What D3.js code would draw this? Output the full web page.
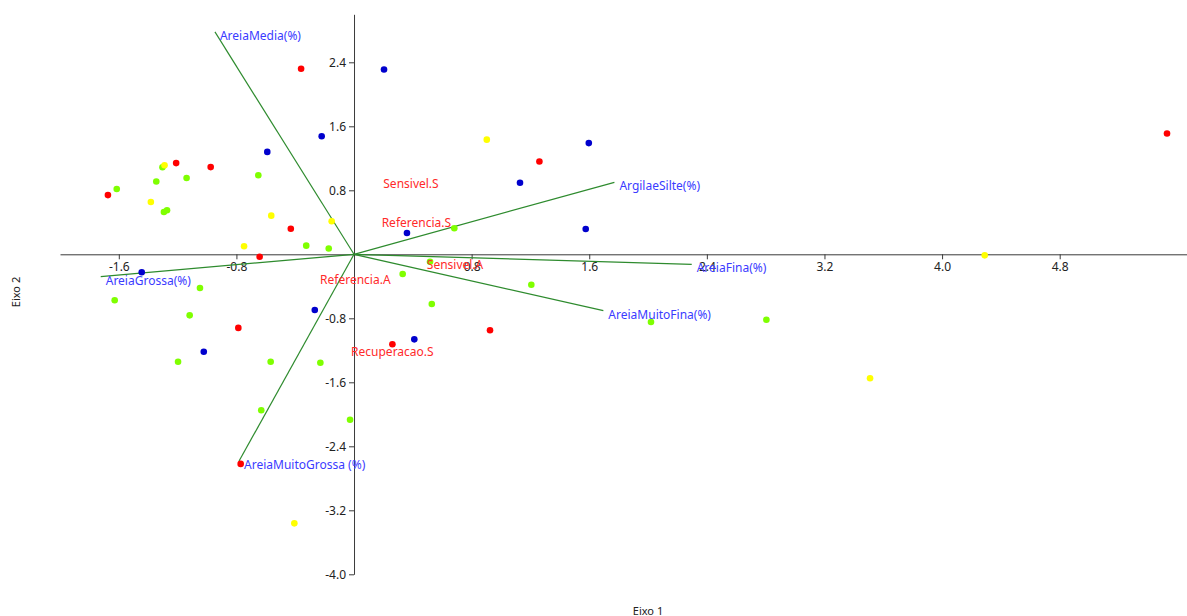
<!DOCTYPE html>
<html>
<head>
<meta charset="utf-8">
<script src="https://cdn.jsdelivr.net/npm/d3@7"></script>
<style>
  body { margin: 0; background: #fff; }
  text { font-family: "Segoe UI", "Noto Sans", sans-serif; }
</style>
</head>
<body>
<div id="chart"></div>
<script>
// scores (Eixo 1, Eixo 2) per colour group
const redPoints = [
  [-0.36, 2.32], [-1.21, 1.14], [-0.975, 1.09], [-1.674, 0.74], [-0.43, 0.32],
  [-0.642, -0.03], [1.261, 1.16], [5.53, 1.51], [-0.787, -0.92], [0.261, -1.125],
  [0.925, -0.95], [-0.771, -2.62]
];
const bluePoints = [
  [0.204, 2.31], [-0.22, 1.475], [-0.59, 1.28], [1.597, 1.39], [1.129, 0.895],
  [0.36, 0.266], [1.576, 0.316], [-1.444, -0.225], [-0.267, -0.696],
  [-1.022, -1.218], [0.41, -1.063]
];
const yellowPoints = [
  [-1.289, 1.114], [-1.382, 0.654], [-0.563, 0.483], [-0.152, 0.413], [-0.748, 0.1],
  [0.903, 1.433], [4.29, -0.013], [3.51, -1.55], [-0.406, -3.363]
];
const greenPoints = [
  [-1.303, 1.088], [-0.651, 0.988], [-1.139, 0.954], [-1.345, 0.91], [-1.614, 0.816],
  [-1.293, 0.529], [-1.272, 0.55], [-0.325, 0.108], [-0.172, 0.073], [0.682, 0.325],
  [0.517, -0.093], [0.331, -0.246], [1.206, -0.38], [0.529, -0.621], [-1.048, -0.421],
  [-1.628, -0.575], [-1.118, -0.763], [-1.197, -1.343], [-0.567, -1.343],
  [-0.229, -1.355], [-0.631, -1.95], [-0.027, -2.068], [2.02, -0.846], [2.805, -0.818]
];

// variable vectors
const vectorNames = ["AreiaMedia(%)", "AreiaGrossa(%)", "AreiaMuitoGrossa (%)",
  "ArgilaeSilte(%)", "AreiaFina(%)", "AreiaMuitoFina(%)"];
const vectorX = [-0.946, -1.723, -0.782, 1.771, 2.297, 1.696];
const vectorY = [2.78, -0.28, -2.584, 0.9, -0.125, -0.705];

// group centroids
const groupNames = ["Sensivel.S", "Referencia.S", "Sensivel.A", "Referencia.A", "Recuperacao.S"];
const groupX = [0.165, 0.154, 0.461, -0.265, -0.054];
const groupY = [0.926, 0.439, -0.078, -0.269, -1.174];

const xTicks = [-1.6, -0.8, 0.8, 1.6, 2.4, 3.2, 4.0, 4.8];
const yTicks = [2.4, 1.6, 0.8, -0.8, -1.6, -2.4, -3.2, -4.0];

const W = 1187, H = 616;

const svg = d3
  .select("#chart")
  .append("svg")
  .attr("width", W)
  .attr("height", H);

const x = d3.scaleLinear().domain([-2, 5.7]).range([60, 1192]);
const y = d3.scaleLinear().domain([-4, 3]).range([574.3, 14.3]);

const fmt = function (d) { return d.toFixed(1); };

// X axis through origin
const xAxis = svg
  .append("g")
  .attr("transform", "translate(0," + y(0) + ")")
  .call(d3.axisBottom(x).tickValues(xTicks).tickFormat(fmt).tickSize(5).tickSizeOuter(0));

// Y axis through origin
const yAxis = svg
  .append("g")
  .attr("transform", "translate(" + x(0) + ",0)")
  .call(d3.axisLeft(y).tickValues(yTicks).tickFormat(fmt).tickSize(5).tickSizeOuter(0));

[xAxis, yAxis].forEach(function (a) {
  a.select(".domain").attr("stroke", "#3a3a3a");
  a.selectAll(".tick line").attr("stroke", "#3a3a3a");
  a.selectAll(".tick text")
    .style("font-size", "12px")
    .attr("fill", "#222")
    .style("font-family", "'Segoe UI', 'Noto Sans', sans-serif");
});

// vectors
const vectors = vectorNames.map(function (n, i) {
  return { name: n, x: vectorX[i], y: vectorY[i] };
});

svg
  .selectAll(".vec")
  .data(vectors)
  .enter()
  .append("line")
  .attr("class", "vec")
  .attr("x1", x(0))
  .attr("y1", y(0))
  .attr("x2", function (d) { return x(d.x); })
  .attr("y2", function (d) { return y(d.y); })
  .attr("stroke", "#2e8b2e")
  .attr("stroke-width", 1.2);

// points
const groups = [
  { data: greenPoints, color: "#7fff00" },
  { data: bluePoints, color: "#0000cd" },
  { data: redPoints, color: "#ff0000" },
  { data: yellowPoints, color: "#ffff00" }
];

groups.forEach(function (g) {
  svg
    .append("g")
    .selectAll("circle")
    .data(g.data)
    .enter()
    .append("circle")
    .attr("cx", function (d) { return x(d[0]); })
    .attr("cy", function (d) { return y(d[1]); })
    .attr("r", 3.3)
    .style("fill", g.color);
});

// vector labels
svg
  .selectAll(".vlab")
  .data(vectors)
  .enter()
  .append("text")
  .attr("class", "vlab")
  .attr("x", function (d) { return x(d.x) + 5; })
  .attr("y", function (d) { return y(d.y) + 3.5; })
  .attr("dominant-baseline", "central")
  .style("font-size", "12px")
  .style("fill", "#3b3bff")
  .text(function (d) { return d.name; });

// group labels
const centroids = groupNames.map(function (n, i) {
  return { name: n, x: groupX[i], y: groupY[i] };
});

svg
  .selectAll(".glab")
  .data(centroids)
  .enter()
  .append("text")
  .attr("class", "glab")
  .attr("x", function (d) { return x(d.x) + 5; })
  .attr("y", function (d) { return y(d.y) + 3.5; })
  .attr("dominant-baseline", "central")
  .style("font-size", "12px")
  .style("fill", "#ff2a2a")
  .text(function (d) { return d.name; });

// axis titles
svg
  .append("text")
  .attr("x", 648)
  .attr("y", 610)
  .attr("text-anchor", "middle")
  .attr("dominant-baseline", "central")
  .style("font-size", "11px")
  .style("fill", "#222")
  .text("Eixo 1");

svg
  .append("text")
  .attr("transform", "translate(15,292) rotate(-90)")
  .attr("text-anchor", "middle")
  .attr("dominant-baseline", "central")
  .style("font-size", "11px")
  .style("fill", "#222")
  .text("Eixo 2");
</script>
</body>
</html>
